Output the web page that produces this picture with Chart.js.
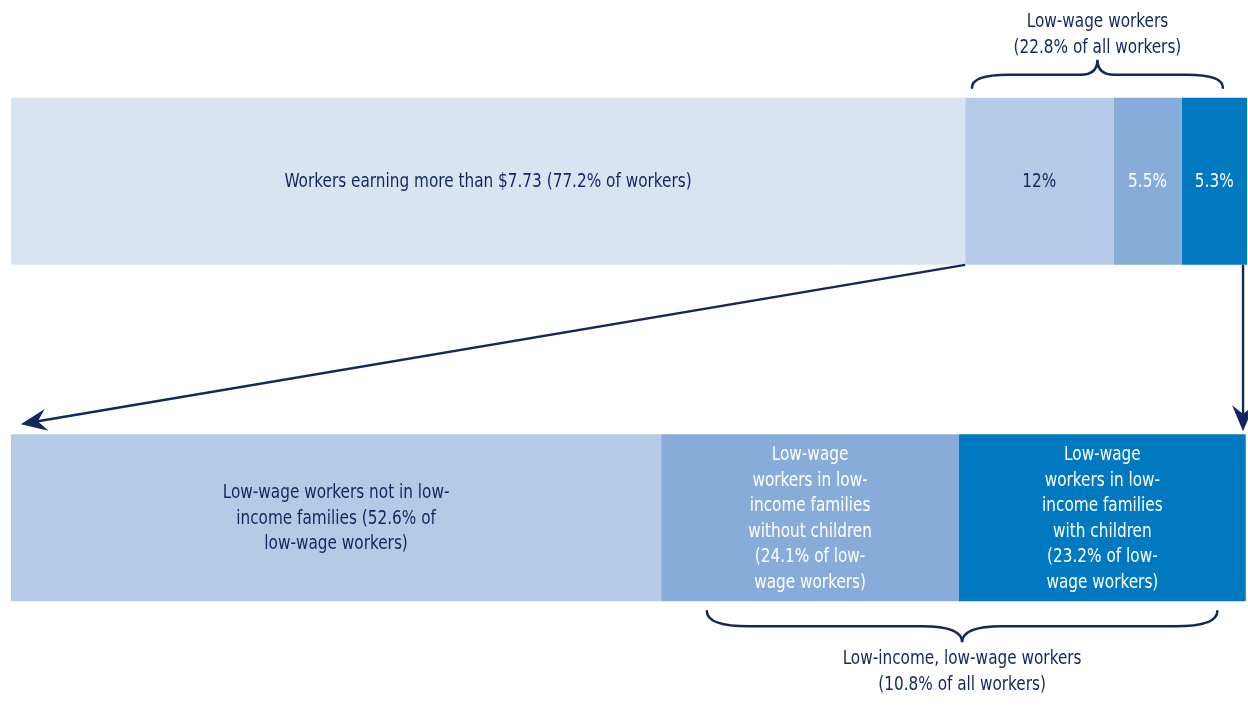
<!DOCTYPE html>
<html>
<head>
<meta charset="utf-8">
<script src="https://cdn.jsdelivr.net/npm/chart.js@4.4.1/dist/chart.umd.min.js"></script>
<style>
  body { margin: 0; background: #ffffff; }
  #wrap { width: 1248px; height: 714px; position: relative; }
</style>
</head>
<body>
<div id="wrap"><canvas id="wageChart"></canvas></div>
<script>
// bar rows
var barLabels = ['All workers', 'Low-wage workers'];
// shares of all workers (top bar)
var allWorkerShares = [77.2, 12, 5.5, 5.3];
// shares of low-wage workers (bottom bar)
var lowWageShares = [52.6, 24.1, 23.2];

var allWorkerLabels = [
    ['Workers earning more than $7.73 (77.2% of workers)'],
    ['12%'],
    ['5.5%'],
    ['5.3%']
];
var lowWageLabels = [
    ['Low-wage workers not in low-', 'income families (52.6% of', 'low-wage workers)'],
    ['Low-wage', 'workers in low-', 'income families', 'without children', '(24.1% of low-', 'wage workers)'],
    ['Low-wage', 'workers in low-', 'income families', 'with children', '(23.2% of low-', 'wage workers)']
];
var topBraceText = ['Low-wage workers', '(22.8% of all workers)'];
var bottomBraceText = ['Low-income, low-wage workers', '(10.8% of all workers)'];

var palette = ['#d9e4f3', '#b5cae6', '#88acd9', '#0079c1'];
var navy = '#13275f';
var fontFamily = "'Liberation Sans Narrow', 'DejaVu Sans Condensed', 'Arial Narrow', sans-serif";
var squeeze = 0.85; // 좁은 글꼴 흉내

var datasets = [];
for (var i = 0; i < allWorkerShares.length; i++) {
    datasets.push({
        label: 'segment ' + (i + 1),
        data: [allWorkerShares[i], lowWageShares[i] || 0],
        backgroundColor: [palette[i], palette[i + 1] || palette[3]],
        borderWidth: 0
    });
}

function textColorFor(fill) {
    return (fill === palette[2] || fill === palette[3]) ? '#ffffff' : navy;
}

function fillNarrow(ctx, text, x, y) {
    ctx.save();
    ctx.translate(x, y);
    ctx.scale(squeeze, 1);
    ctx.fillText(text, 0, 0);
    ctx.restore();
}

// 중괄호 그리기
function drawBrace(ctx, x1, x2, yEnd, yFlat, yTip, rEnd, rTip) {
    var xm = (x1 + x2) / 2;
    ctx.beginPath();
    ctx.moveTo(x1, yEnd);
    ctx.quadraticCurveTo(x1, yFlat, x1 + rEnd, yFlat);
    ctx.lineTo(xm - rTip, yFlat);
    ctx.quadraticCurveTo(xm, yFlat, xm, yTip);
    ctx.quadraticCurveTo(xm, yFlat, xm + rTip, yFlat);
    ctx.lineTo(x2 - rEnd, yFlat);
    ctx.quadraticCurveTo(x2, yFlat, x2, yEnd);
    ctx.stroke();
}

function drawArrow(ctx, x1, y1, x2, y2) {
    var dx = x2 - x1, dy = y2 - y1;
    var len = Math.sqrt(dx * dx + dy * dy);
    var ux = dx / len, uy = dy / len;
    var nx = -uy, ny = ux;
    var L = 26, W = 22;
    ctx.beginPath();
    ctx.moveTo(x1, y1);
    ctx.lineTo(x2 - ux * L * 0.6, y2 - uy * L * 0.6);
    ctx.stroke();
    ctx.beginPath();
    ctx.moveTo(x2, y2);
    ctx.lineTo(x2 - ux * L + nx * W / 2, y2 - uy * L + ny * W / 2);
    ctx.lineTo(x2 - ux * L * 0.66, y2 - uy * L * 0.66);
    ctx.lineTo(x2 - ux * L - nx * W / 2, y2 - uy * L - ny * W / 2);
    ctx.closePath();
    ctx.fill();
}

var annotationPlugin = {
    id: 'wageAnnotations',
    afterDatasetsDraw: function(chart) {
        var ctx = chart.ctx;
        var xs = chart.scales.x;
        var fontSize = 20, lineH = 25.5;
        ctx.save();
        ctx.font = fontSize + 'px ' + fontFamily;
        ctx.textAlign = 'center';
        ctx.textBaseline = 'middle';

        // 막대 안 라벨
        chart.data.datasets.forEach(function(ds, di) {
            var meta = chart.getDatasetMeta(di);
            meta.data.forEach(function(bar, row) {
                var lines = row === 0 ? allWorkerLabels[di] : lowWageLabels[di];
                if (!lines) return;
                var cx = (bar.x + bar.base) / 2;
                ctx.fillStyle = textColorFor(ds.backgroundColor[row]);
                var y0 = bar.y - (lines.length - 1) * lineH / 2 + 1;
                lines.forEach(function(t, k) {
                    fillNarrow(ctx, t, cx, y0 + k * lineH);
                });
            });
        });

        var topBar = chart.getDatasetMeta(0).data[0];
        var lowBar = chart.getDatasetMeta(0).data[1];
        var topTop = topBar.y - topBar.height / 2;
        var topBottom = topBar.y + topBar.height / 2;
        var lowTop = lowBar.y - lowBar.height / 2;
        var lowBottom = lowBar.y + lowBar.height / 2;

        ctx.strokeStyle = navy;
        ctx.fillStyle = navy;
        ctx.lineWidth = 2.5;
        ctx.lineCap = 'round';

        // 위쪽 중괄호 + 텍스트
        var bx1 = xs.getPixelForValue(77.75), bx2 = xs.getPixelForValue(98.05);
        drawBrace(ctx, bx1, bx2, topTop - 10, topTop - 23, topTop - 38, 36, 17);
        topBraceText.forEach(function(t, k) {
            fillNarrow(ctx, t, (bx1 + bx2) / 2, topTop - 76 + k * 26);
        });

        // 아래쪽 중괄호 + 텍스트
        var cx1 = xs.getPixelForValue(56.3), cx2 = xs.getPixelForValue(97.6);
        drawBrace(ctx, cx1, cx2, lowBottom + 10, lowBottom + 25, lowBottom + 41, 42, 40);
        bottomBraceText.forEach(function(t, k) {
            fillNarrow(ctx, t, (cx1 + cx2) / 2, lowBottom + 57 + k * 26);
        });

        // 화살표
        ctx.lineWidth = 2.4;
        ctx.lineCap = 'butt';
        drawArrow(ctx, xs.getPixelForValue(allWorkerShares[0]), topBottom,
                  xs.getPixelForValue(0.8), lowTop - 10);
        var vx = xs.getPixelForValue(99.68);
        drawArrow(ctx, vx, topBottom, vx, lowTop - 3);
        ctx.restore();
    }
};

var ctx = document.getElementById('wageChart').getContext('2d');
new Chart(ctx, {
    type: 'bar',
    data: { labels: barLabels, datasets: datasets },
    options: {
        indexAxis: 'y',
        responsive: true,
        maintainAspectRatio: false,
        animation: false,
        layout: { padding: { left: 11, right: 1, top: 13, bottom: 28 } },
        categoryPercentage: 1,
        barPercentage: 0.497,
        scales: {
            x: { stacked: true, min: 0, max: 100, display: false },
            y: { stacked: true, display: false }
        },
        plugins: {
            legend: { display: false },
            tooltip: { enabled: false }
        }
    },
    plugins: [annotationPlugin]
});
</script>
</body>
</html>
